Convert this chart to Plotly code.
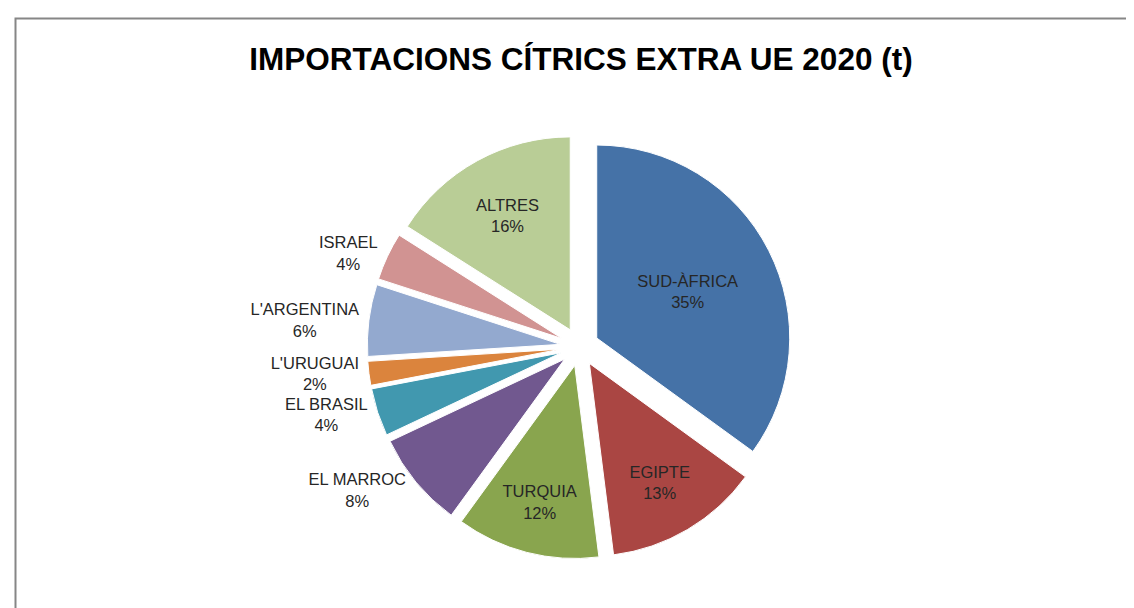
import plotly.graph_objects as go

labels = ["SUD-ÀFRICA", "EGIPTE", "TURQUIA", "EL MARROC", "EL BRASIL",
          "L'URUGUAI", "L'ARGENTINA", "ISRAEL", "ALTRES"]
values = [35, 13, 12, 8, 4, 2, 6, 4, 16]
colors = ["#4572A7", "#AA4643", "#89A54E", "#71588F", "#4198AF",
          "#DB843D", "#93A9CF", "#D19392", "#B9CD96"]
positions = ["inside", "inside", "inside", "outside", "outside",
             "outside", "outside", "outside", "inside"]

W, H = 1134, 608

fig = go.Figure(go.Pie(
    labels=labels,
    values=values,
    sort=False,
    direction="clockwise",
    rotation=0,
    pull=[0.1] * len(values),
    marker=dict(colors=colors, line=dict(color="white", width=1)),
    texttemplate="%{label}<br>%{percent:.0%}",
    textposition=positions,
    insidetextorientation="horizontal",
    textfont=dict(family="Liberation Sans, Arial, sans-serif", size=16.5, color="#262626"),
    domain=dict(x=[0.3168, 0.6912], y=[0.0936, 0.7920]),
    showlegend=False,
    hoverinfo="label+percent",
))

fig.update_layout(
    width=W, height=H,
    margin=dict(l=0, r=0, t=0, b=0),
    paper_bgcolor="white",
    plot_bgcolor="white",
    title=dict(
        text="<b>IMPORTACIONS CÍTRICS EXTRA UE 2020 (t)</b>",
        x=573 / W, xanchor="center",
        y=1 - 51 / H, yanchor="middle",
        font=dict(family="Liberation Sans, Arial, sans-serif", size=31.5, color="#000000"),
    ),
    shapes=[dict(
        type="rect", xref="paper", yref="paper",
        x0=7.5 / W, x1=1.05, y0=-0.05, y1=1 - 10.5 / H,
        line=dict(color="#868686", width=2),
        fillcolor="rgba(0,0,0,0)",
        layer="below",
    )],
)

fig.write_html("out.html")
